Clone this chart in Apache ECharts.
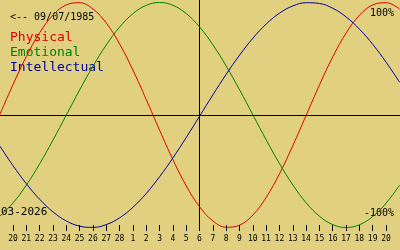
<!DOCTYPE html>
<html>
<head>
<meta charset="utf-8">
<style>
html,body{margin:0;padding:0;background:#e0d080;}
#c{width:400px;height:250px;}
</style>
<script src="https://cdn.jsdelivr.net/npm/echarts@6/dist/echarts.min.js"></script>
</head>
<body>
<div id="c"></div>
<script>
// Day labels for ticks (20 Feb .. 20 Mar)
const dayLabels = ['20','21','22','23','24','25','26','27','28','1','2','3','4','5','6','7','8','9','10','11','12','13','14','15','16','17','18','19','20'];
// Curve values per day, from 19 Feb to 21 Mar (one day beyond each end tick)
const physical = [0, 0.270, 0.520, 0.731, 0.888, 0.979, 0.998, 0.942, 0.817, 0.631, 0.398, 0.136, -0.136, -0.398, -0.631, -0.817, -0.942, -0.998, -0.979, -0.888, -0.731, -0.520, -0.270, 0, 0.270, 0.520, 0.731, 0.888, 0.979, 0.998, 0.942];
const emotional = [-0.901, -0.782, -0.623, -0.434, -0.223, 0, 0.223, 0.434, 0.623, 0.782, 0.901, 0.975, 1, 0.975, 0.901, 0.782, 0.623, 0.434, 0.223, 0, -0.223, -0.434, -0.623, -0.782, -0.901, -0.975, -1, -0.975, -0.901, -0.782, -0.623];
const intellectual = [-0.273, -0.450, -0.610, -0.749, -0.861, -0.942, -0.988, -0.999, -0.974, -0.914, -0.820, -0.697, -0.548, -0.381, -0.199, -0.010, 0.180, 0.363, 0.533, 0.683, 0.809, 0.906, 0.970, 0.998, 0.991, 0.948, 0.871, 0.762, 0.626, 0.467, 0.291];
const seriesNames = ['Physical', 'Emotional', 'Intellectual'];
const seriesColors = ['#dd0000', '#008000', '#000099'];
const birthText = '<-- 09/07/1985';
const monthText = '03-2026';
const topText = '100%';
const bottomText = '-100%';

// x = day offset from the centre day (6 March); first value is 19 Feb = -15
const toPairs = arr => arr.map((v, j) => [j - 15, v]);

const chart = echarts.init(document.getElementById('c'), null, {renderer: 'canvas'});
const mono = 'DejaVu Sans Mono';
chart.setOption({
  backgroundColor: '#e0d080',
  animation: false,
  grid: [
    {left: 0, right: 0, top: 0, bottom: 20},
    {left: 13, right: 14, top: 0, bottom: 25}
  ],
  xAxis: [
    {type: 'value', gridIndex: 0, min: -14.975, max: 15.03,
     axisLine: {show: true, onZero: true, lineStyle: {color: '#000', width: 1}},
     axisTick: {show: false}, axisLabel: {show: false}, splitLine: {show: false}},
    {type: 'value', gridIndex: 1, min: -14, max: 14, interval: 1, position: 'bottom',
     axisLine: {show: false, onZero: false},
     axisTick: {show: true, length: 6, lineStyle: {color: '#000', width: 1}},
     axisLabel: {show: true, margin: 10, fontSize: 8, fontFamily: mono, color: '#000',
       formatter: v => dayLabels[Math.round(v) + 14] || ''},
     splitLine: {show: false}}
  ],
  yAxis: [
    {type: 'value', gridIndex: 0, min: -1.0222, max: 1.0222,
     axisLine: {show: true, onZero: true, lineStyle: {color: '#000', width: 1}},
     axisTick: {show: false}, axisLabel: {show: false}, splitLine: {show: false}},
    {type: 'value', gridIndex: 1, min: 0, max: 1, show: false}
  ],
  series: [physical, emotional, intellectual].map((arr, k) => ({
    name: seriesNames[k], type: 'line', xAxisIndex: 0, yAxisIndex: 0,
    data: toPairs(arr), showSymbol: false, smooth: 0.4, clip: true,
    lineStyle: {color: seriesColors[k], width: 1}
  })),
  graphic: [
    {type: 'text', left: 10, top: 12, style: {text: birthText, font: '10px "DejaVu Sans Mono"', fill: '#000'}},
    {type: 'text', left: 10, top: 31, style: {text: seriesNames[0], font: '13px "DejaVu Sans Mono"', fill: seriesColors[0]}},
    {type: 'text', left: 10, top: 46, style: {text: seriesNames[1], font: '13px "DejaVu Sans Mono"', fill: seriesColors[1]}},
    {type: 'text', left: 10, top: 61, style: {text: seriesNames[2], font: '13px "DejaVu Sans Mono"', fill: seriesColors[2]}},
    {type: 'text', right: 6, top: 8, style: {text: topText, font: '10px "DejaVu Sans Mono"', fill: '#000'}},
    {type: 'text', right: 6, top: 208, style: {text: bottomText, font: '10px "DejaVu Sans Mono"', fill: '#000'}},
    {type: 'text', left: 1, top: 207, style: {text: monthText, font: '11px "DejaVu Sans Mono"', fill: '#000'}}
  ]
});
</script>
</body>
</html>
